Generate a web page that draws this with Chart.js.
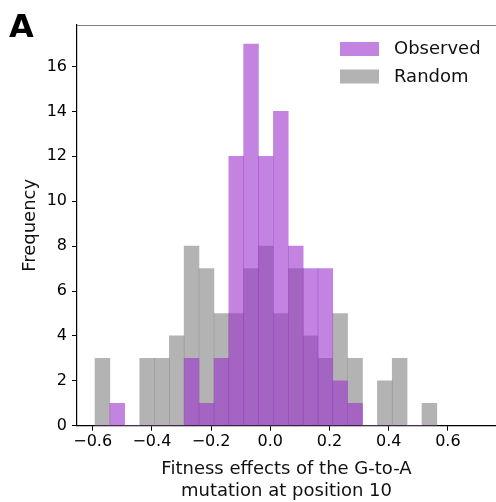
<!DOCTYPE html>
<html>
<head>
<meta charset="utf-8">
<script src="https://cdn.jsdelivr.net/npm/chart.js@4.4.0/dist/chart.umd.min.js"></script>
<style>
  html, body { margin: 0; padding: 0; background: #fff; overflow: hidden; }
  #wrap { width: 496px; height: 502px; }
</style>
</head>
<body>
<div id="wrap"><canvas id="hist" width="496" height="502"></canvas></div>
<script>
/* ── Data ───────────────────────────────────────────────────── */
const binEdges = [
  -0.592, -0.542, -0.492, -0.441, -0.391, -0.341, -0.291, -0.241,
  -0.190, -0.140, -0.090, -0.040, 0.010, 0.061, 0.111, 0.161,
  0.211, 0.261, 0.312, 0.362, 0.412, 0.462, 0.512, 0.563
];
const observedCounts = [0, 1, 0, 0, 0, 0, 3, 1, 3, 12, 17, 12, 14, 8, 7, 7, 2, 1, 0, 0, 0, 0, 0];
const randomCounts   = [3, 0, 0, 3, 3, 4, 8, 7, 5, 5, 7, 8, 5, 7, 4, 3, 5, 3, 0, 2, 3, 0, 1];
const seriesLabels   = ['Observed', 'Random'];
const xTicks = [-0.6, -0.4, -0.2, 0.0, 0.2, 0.4, 0.6];
const yTicks = [0, 2, 4, 6, 8, 10, 12, 14, 16];

/* ── Helpers ────────────────────────────────────────────────── */
const binCenters = binEdges.slice(0, -1).map((e, i) => (e + binEdges[i + 1]) / 2);
const toPoints = counts => counts.map((c, i) => ({ x: binCenters[i], y: c }));
const fmtTick = v => (v < 0 ? '\u2212' : '') + Math.abs(v).toFixed(1);

Chart.defaults.font.family = '"DejaVu Sans", sans-serif';
Chart.defaults.color = '#000';

/* ── Panel letter, top spine and legend ─────────────────────── */
const panelDecor = {
  id: 'panelDecor',
  afterDraw(chart) {
    const { ctx, chartArea: a } = chart;
    ctx.save();

    ctx.strokeStyle = '#808080';
    ctx.lineWidth = 1;
    ctx.beginPath();
    ctx.moveTo(a.left, a.top + 0.5);
    ctx.lineTo(a.right, a.top + 0.5);
    ctx.stroke();

    ctx.fillStyle = '#000';
    ctx.font = 'bold 32px "DejaVu Sans"';
    ctx.textBaseline = 'alphabetic';
    ctx.fillText('A', 9, 37);

    // legend, top right inside the axes
    ctx.font = '18px "DejaVu Sans"';
    ctx.textBaseline = 'middle';
    chart.data.datasets.forEach((ds, i) => {
      const y = a.top + 17 + i * 27.5;
      ctx.fillStyle = ds.backgroundColor;
      ctx.fillRect(a.right - 156, y, 39, 14);
      ctx.fillStyle = '#111';
      ctx.fillText(ds.label, a.right - 102, y + 7.5);
    });
    ctx.restore();
  }
};

/* ── Chart ──────────────────────────────────────────────────── */
new Chart(document.getElementById('hist'), {
  type: 'bar',
  data: {
    datasets: [
      {
        label: seriesLabels[0],
        data: toPoints(observedCounts),
        backgroundColor: 'rgba(153,50,204,0.6)',
        borderWidth: 0
      },
      {
        label: seriesLabels[1],
        data: toPoints(randomCounts),
        backgroundColor: 'rgba(128,128,128,0.6)',
        borderWidth: 0
      }
    ]
  },
  options: {
    responsive: false,
    animation: false,
    layout: { padding: { top: 25, left: 0, right: 0, bottom: 0 } },
    datasets: { bar: { grouped: false, barPercentage: 1, categoryPercentage: 1 } },
    plugins: { legend: { display: false }, tooltip: { enabled: false } },
    scales: {
      x: {
        type: 'linear',
        offset: false,
        min: -0.653,
        max: 0.7625,
        afterBuildTicks: s => { s.ticks = xTicks.map(v => ({ value: v })); },
        afterFit: s => { s.height = 76.3; },
        grid: { offset: false, drawOnChartArea: false, drawTicks: true, tickLength: 5, tickColor: '#000', tickWidth: 1 },
        border: { color: '#000', width: 1.2 },
        ticks: { font: { size: 16 }, padding: 2, color: '#000', callback: fmtTick, maxRotation: 0 },
        title: {
          display: true,
          text: ['Fitness effects of the G-to-A', 'mutation at position 10'],
          font: { size: 18, lineHeight: 1.2 },
          padding: { top: 0, bottom: 0 },
          color: '#111'
        }
      },
      y: {
        min: 0,
        max: 17.85,
        afterBuildTicks: s => { s.ticks = yTicks.map(v => ({ value: v })); },
        afterFit: s => { s.width = 77; },
        grid: { drawOnChartArea: false, drawTicks: true, tickLength: 5, tickColor: '#000', tickWidth: 1 },
        border: { color: '#000', width: 1.2 },
        ticks: { font: { size: 16 }, padding: 5, color: '#000' },
        title: {
          display: true,
          text: 'Frequency',
          font: { size: 18, lineHeight: 1.2 },
          padding: { top: 20, bottom: 0 },
          color: '#111'
        }
      }
    }
  },
  plugins: [panelDecor]
});
</script>
</body>
</html>
